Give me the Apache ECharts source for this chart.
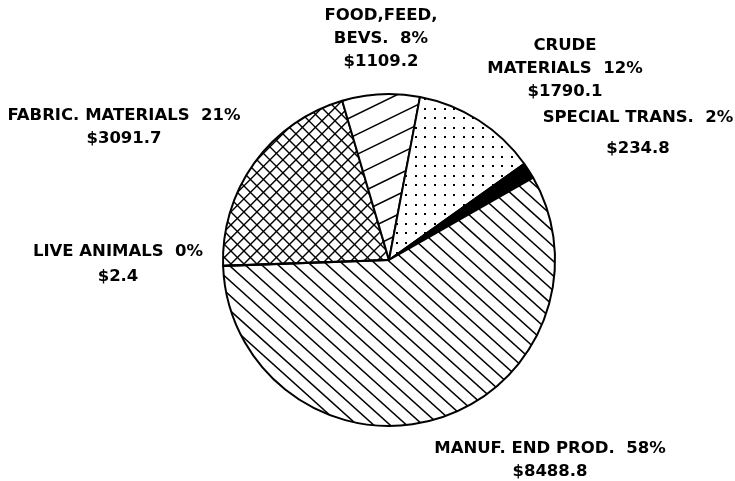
<!DOCTYPE html>
<html>
<head>
<meta charset="utf-8">
<script src="https://cdn.jsdelivr.net/npm/echarts@6/dist/echarts.min.js"></script>
<style>
  html, body { margin: 0; padding: 0; background: #fff; }
  #main { width: 735px; height: 481px; }
</style>
</head>
<body>
<div id="main"></div>
<script>
// categories in drawing order (clockwise from 9 o'clock)
const categories = ['FABRIC. MATERIALS', 'FOOD,FEED,\nBEVS.', 'CRUDE\nMATERIALS', 'SPECIAL TRANS.', 'MANUF. END PROD.', 'LIVE ANIMALS']
const values = [3091.7, 1109.2, 1790.1, 234.8, 8488.8, 2.4]

const W = 735
const H = 481
const total = values.reduce((a, b) => a + b, 0)

// label block centres, px
const labelPos = [[124, 127], [381, 39], [565, 69], [638, 133], [550, 460], [118, 264]]
const labelLineHeight = [23, 23, 23, 31, 23, 25]

// hatch fills drawn on a page-sized canvas
function blank () {
  const c = document.createElement('canvas')
  c.width = W
  c.height = H
  const ctx = c.getContext('2d')
  ctx.fillStyle = '#fff'
  ctx.fillRect(0, 0, W, H)
  return c
}
function lines (c, angle, gap, lw) {
  const ctx = c.getContext('2d')
  ctx.save()
  ctx.translate(W / 2, H / 2)
  ctx.rotate(-angle * Math.PI / 180)
  ctx.strokeStyle = '#000'
  ctx.lineWidth = lw
  for (let y = -1000; y < 1000; y += gap) {
    ctx.beginPath()
    ctx.moveTo(-1000, y)
    ctx.lineTo(1000, y)
    ctx.stroke()
  }
  ctx.restore()
  return c
}
function dots (gap, r) {
  const c = blank()
  const ctx = c.getContext('2d')
  ctx.fillStyle = '#000'
  for (let x = 2; x < W; x += gap) {
    for (let y = 2; y < H; y += gap) {
      ctx.fillRect(Math.round(x), Math.round(y), r, r)
    }
  }
  return c
}

const fills = [
  { image: lines(lines(blank(), 45, 9.2, 1.4), -45, 9.2, 1.4), repeat: 'no-repeat' },
  { image: lines(blank(), 26, 18, 1.5), repeat: 'no-repeat' },
  { image: dots(9.6, 2), repeat: 'no-repeat' },
  '#000',
  { image: lines(blank(), -42, 11, 1.5), repeat: 'no-repeat' },
  '#fff'
]

const chart = echarts.init(document.getElementById('main'), null, { renderer: 'canvas' })
chart.setOption({
  backgroundColor: '#fff',
  animation: false,
  series: [
    {
      type: 'pie',
      center: [389, 260],
      radius: 166,
      startAngle: 182,
      clockwise: true,
      avoidLabelOverlap: false,
      silent: true,
      itemStyle: {
        borderColor: '#000',
        borderWidth: 2
      },
      label: {
        show: true,
        position: 'outside',
        color: '#000',
        fontFamily: 'DejaVu Sans',
        fontWeight: 'bold',
        fontSize: 16.5,
        lineHeight: 23,
        align: 'center',
        formatter: function (p) {
          return p.name + '  ' + Math.round(p.value / total * 100) + '%\n$' + p.value.toFixed(1)
        }
      },
      labelLine: { show: false },
      labelLayout: function (p) {
        return {
          x: labelPos[p.dataIndex][0],
          y: labelPos[p.dataIndex][1],
          align: 'center',
          verticalAlign: 'middle'
        }
      },
      data: categories.map((name, i) => ({
        name: name,
        value: values[i],
        itemStyle: { color: fills[i] },
        label: { lineHeight: labelLineHeight[i] }
      }))
    }
  ]
})
</script>
</body>
</html>
